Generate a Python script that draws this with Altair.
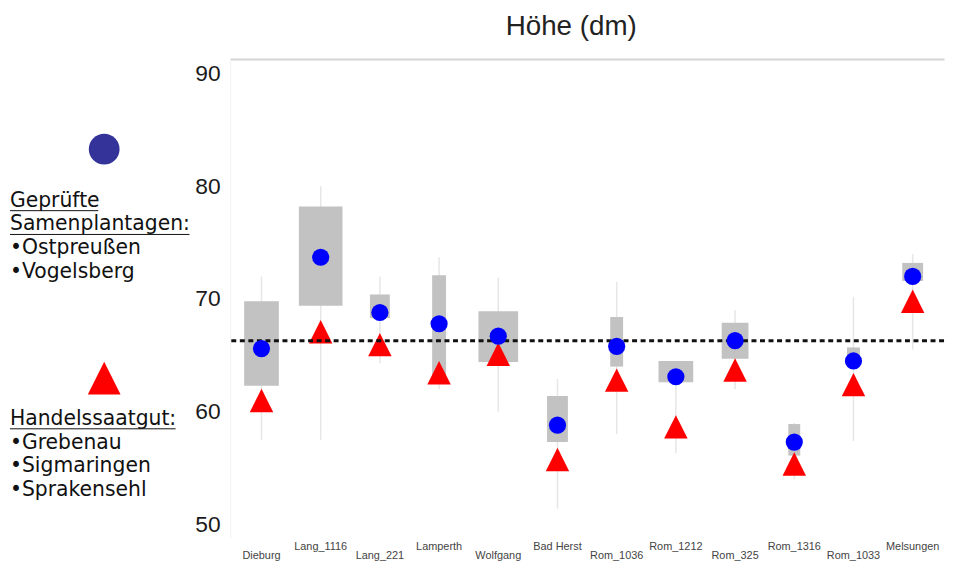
import altair as alt
import pandas as pd

categories = ["Dieburg", "Lang_1116", "Lang_221", "Lamperth", "Wolfgang", "Bad Herst",
              "Rom_1036", "Rom_1212", "Rom_325", "Rom_1316", "Rom_1033", "Melsungen"]
box_low = [62.3, 69.4, 68.3, 62.9, 64.4, 57.3, 64.0, 62.6, 64.7, 56.1, 64.2, 71.6]
box_high = [69.8, 78.2, 70.4, 72.1, 68.9, 61.4, 68.4, 64.5, 67.9, 58.9, 65.7, 73.2]
whisker_low = [57.5, 57.5, 64.3, 62.0, 60.0, 51.4, 58.0, 56.3, 62.0, 54.0, 57.4, 65.5]
whisker_high = [72.0, 80.0, 72.0, 73.7, 71.9, 62.9, 71.5, 64.5, 69.0, 59.0, 70.2, 74.0]
sample_n = [35, 44, 20, 14, 40, 21, 13, 35, 27, 12, 13, 21]
seed_orchard = [65.6, 73.7, 68.8, 67.8, 66.7, 58.8, 65.8, 63.1, 66.3, 57.3, 64.5, 72.0]
commercial = [61.0, 67.1, 65.95, 63.45, 65.1, 55.75, 62.8, 58.65, 63.7, 55.35, 62.4, 69.8]
reference_mean = 66.3
y_ticks = [50, 60, 70, 80, 90]

legend_a = ["Geprüfte", "Samenplantagen:", "•Ostpreußen", "•Vogelsberg"]
legend_b = ["Handelssaatgut:", "•Grebenau", "•Sigmaringen", "•Sprakensehl"]

df = pd.DataFrame({
    "category": categories,
    "box_low": box_low,
    "box_high": box_high,
    "w_low": whisker_low,
    "w_high": whisker_high,
    "n": sample_n,
    "orchard": seed_orchard,
    "commercial": commercial,
    "idx": list(range(len(categories))),
})

W, H = 720, 483
TRI = "M0,-1L1,1L-1,1Z"

xenc = alt.X("category:N", sort=categories,
             scale=alt.Scale(paddingOuter=0.03, paddingInner=0),
             axis=alt.Axis(orient="top", labels=False, ticks=False, title=None,
                           grid=False, domainColor="#d4d4d4", domainWidth=2))
yscale = alt.Scale(domain=[48.8, 91.3], nice=False, zero=False)

base = alt.Chart(df)

whiskers = base.mark_rule(color="#e6e6e6", strokeWidth=1.5).encode(
    x=xenc,
    y=alt.Y("w_low:Q", scale=yscale,
            axis=alt.Axis(values=y_ticks, labelFontSize=23, labelFont="Liberation Sans",
                          labelColor="#1a1a1a", ticks=False, grid=False, title=None,
                          domainColor="#f0f0f0", labelPadding=10)),
    y2="w_high:Q",
)

boxes = base.mark_bar(color="#c2c2c2").encode(
    x=alt.X("category:N", sort=categories),
    y=alt.Y("box_low:Q", scale=yscale),
    y2="box_high:Q",
    size=alt.Size("n:Q", scale=alt.Scale(domain=[0, 44], range=[0, 44]), legend=None),
)

triangles = base.mark_point(shape=TRI, filled=True, color="#ff0000", size=560, opacity=1).encode(
    x=alt.X("category:N", sort=categories),
    y=alt.Y("commercial:Q", scale=yscale),
)

ref = alt.Chart(pd.DataFrame({"m": [reference_mean]})).mark_rule(
    color="#111111", strokeWidth=3, strokeDash=[5, 3.6]
).encode(y=alt.Y("m:Q", scale=yscale))

circles = base.mark_circle(color="#0000ff", size=300, opacity=1).encode(
    x=alt.X("category:N", sort=categories),
    y=alt.Y("orchard:Q", scale=yscale),
)

lab_lower = base.transform_filter("datum.idx % 2 == 0").mark_text(
    font="Liberation Sans", fontSize=11, color="#444444", baseline="alphabetic"
).encode(x=alt.X("category:N", sort=categories), y=alt.value(H + 21), text="category:N")

lab_upper = base.transform_filter("datum.idx % 2 == 1").mark_text(
    font="Liberation Sans", fontSize=11, color="#444444", baseline="alphabetic"
).encode(x=alt.X("category:N", sort=categories), y=alt.value(H + 12), text="category:N")

one = alt.Chart(pd.DataFrame({"k": [0]}))

leg_circle = one.mark_circle(color="#333399", size=961, opacity=1).encode(
    x=alt.value(-127), y=alt.value(91))
leg_tri = one.mark_point(shape=TRI, filled=True, color="#ff0000", size=1089, opacity=1).encode(
    x=alt.value(-127), y=alt.value(322))

txt_a = one.mark_text(text=legend_a, font="DejaVu Sans", fontSize=20.5, color="#111111",
                      align="left", baseline="alphabetic", lineHeight=24).encode(
    x=alt.value(-222), y=alt.value(149))
txt_b = one.mark_text(text=legend_b, font="DejaVu Sans", fontSize=20.5, color="#111111",
                      align="left", baseline="alphabetic", lineHeight=24).encode(
    x=alt.value(-222), y=alt.value(369))

ul1 = one.mark_rule(color="#111111", strokeWidth=1).encode(
    x=alt.value(-222), x2=alt.value(-133), y=alt.value(153))
ul2 = one.mark_rule(color="#111111", strokeWidth=1).encode(
    x=alt.value(-222), x2=alt.value(-41), y=alt.value(177))
ul3 = one.mark_rule(color="#111111", strokeWidth=1).encode(
    x=alt.value(-222), x2=alt.value(-55), y=alt.value(373))

chart = alt.layer(
    whiskers, boxes, triangles, ref, circles, lab_lower, lab_upper,
    leg_circle, leg_tri, txt_a, txt_b, ul1, ul2, ul3
).properties(
    width=W, height=H,
    title=alt.TitleParams("Höhe (dm)", fontSize=28, font="Liberation Sans",
                          fontWeight="normal", color="#222222", dx=-16,
                          baseline="alphabetic", offset=-4),
    autosize=alt.AutoSizeParams(type="none"),
    padding={"left": 224, "top": 49, "right": 5, "bottom": 28},
).configure_view(stroke=None)

chart.save("out.html", embed_options={"renderer": "svg", "actions": False})
